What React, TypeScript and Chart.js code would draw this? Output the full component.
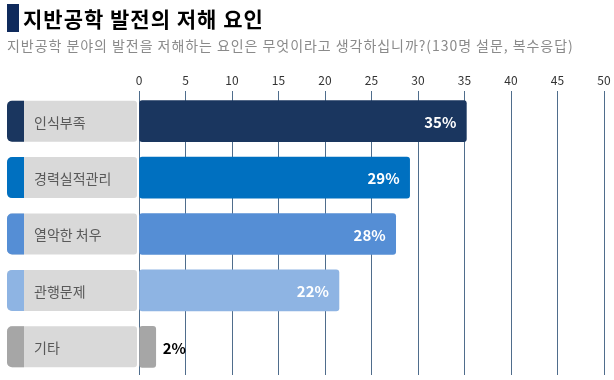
import React, { useEffect, useRef } from "react";
import { Chart, registerables } from "chart.js";

Chart.register(...registerables);

const titleText = "지반공학 발전의 저해 요인";
const subtitleText = "지반공학 분야의 발전을 저해하는 요인은 무엇이라고 생각하십니까?(130명 설문, 복수응답)";
const categories = ["인식부족", "경력실적관리", "열악한 처우", "관행문제", "기타"];
const values = [35.2, 29.1, 27.6, 21.5, 1.8];
const barColors = ["#1a365f", "#0070c0", "#558ed5", "#8eb4e3", "#a6a6a6"];
const xMin = 0;
const xMax = 50;
const xStep = 5;

const FONT = "'Noto Sans CJK KR', 'Noto Sans', sans-serif";

const labelBoxPlugin = {
  id: "labelBoxes",
  beforeDatasetsDraw(chart: any) {
    const { ctx, chartArea } = chart;
    const yScale = chart.scales.y;
    const meta = chart.getDatasetMeta(0);
    ctx.save();
    categories.forEach((cat, i) => {
      const cy = yScale.getPixelForValue(i);
      const bar = meta.data[i];
      const h = bar ? bar.height : 41;
      const top = cy - h / 2;
      const x0 = 7;
      const x1 = chartArea.left - 2;
      ctx.fillStyle = "#d9d9d9";
      ctx.beginPath();
      ctx.roundRect(x0, top, x1 - x0, h, [5, 3, 3, 5]);
      ctx.fill();
      ctx.fillStyle = barColors[i];
      ctx.beginPath();
      ctx.roundRect(x0, top, 17, h, [5, 0, 0, 5]);
      ctx.fill();
      ctx.fillStyle = "#595959";
      ctx.font = `14px ${FONT}`;
      ctx.textBaseline = "middle";
      ctx.textAlign = "left";
      ctx.fillText(cat, 34, cy + 1);
    });
    ctx.restore();
  },
};

const valueLabelPlugin = {
  id: "valueLabels",
  afterDatasetsDraw(chart: any) {
    const { ctx } = chart;
    const meta = chart.getDatasetMeta(0);
    ctx.save();
    ctx.font = `bold 15px ${FONT}`;
    ctx.textBaseline = "middle";
    meta.data.forEach((bar: any, i: number) => {
      const text = Math.round(values[i]) + "%";
      if (values[i] > 5) {
        ctx.fillStyle = "#ffffff";
        ctx.textAlign = "right";
        ctx.fillText(text, bar.x - 10, bar.y + 1);
      } else {
        ctx.fillStyle = "#000000";
        ctx.textAlign = "left";
        ctx.fillText(text, bar.x + 7, bar.y + 1);
      }
    });
    ctx.restore();
  },
};

export default function App() {
  const canvasRef = useRef<HTMLCanvasElement | null>(null);

  useEffect(() => {
    if (!canvasRef.current) return;
    const chart = new Chart(canvasRef.current, {
      type: "bar",
      data: {
        labels: categories,
        datasets: [
          {
            data: values,
            backgroundColor: barColors,
            borderRadius: 3,
            borderSkipped: false,
            barThickness: 41,
          },
        ],
      },
      options: {
        indexAxis: "y",
        animation: false,
        responsive: false,
        maintainAspectRatio: false,
        layout: { padding: { left: 139, right: 10, top: 63, bottom: 5 } },
        plugins: {
          legend: { display: false },
          tooltip: { enabled: false },
          title: { display: false },
        },
        scales: {
          x: {
            position: "top",
            min: xMin,
            max: xMax,
            afterFit: (s: any) => {
              s.height = 30;
            },
            ticks: {
              stepSize: xStep,
              color: "#333333",
              padding: 3,
              font: { family: FONT, size: 12 },
            },
            grid: {
              color: "#4f6d8c",
              lineWidth: 1,
              tickLength: 2,
              drawOnChartArea: true,
            },
            border: { display: false },
          },
          y: {
            display: false,
            grid: { display: false },
          },
        },
      },
      plugins: [labelBoxPlugin, valueLabelPlugin],
    });
    return () => chart.destroy();
  }, []);

  return (
    <div style={{ position: "fixed", left: 0, top: 0, width: 614, height: 380, background: "#ffffff", overflow: "hidden" }}>
      <canvas ref={canvasRef} width={614} height={380} style={{ position: "absolute", left: 0, top: 0, width: 614, height: 380 }} />
      <div style={{ position: "absolute", left: 7, top: 4, width: 12, height: 28, background: "#0f2a5c" }} />
      <div
        style={{
          position: "absolute",
          left: 23,
          top: 3,
          fontFamily: FONT,
          fontWeight: 700,
          fontSize: 21,
          lineHeight: "30px",
          letterSpacing: "1px",
          color: "#000000",
          whiteSpace: "nowrap",
        }}
      >
        {titleText}
      </div>
      <div
        style={{
          position: "absolute",
          left: 7,
          top: 35,
          fontFamily: FONT,
          fontSize: 14,
          lineHeight: "20px",
          letterSpacing: "0.95px",
          color: "#8a8a8a",
          whiteSpace: "nowrap",
        }}
      >
        {subtitleText}
      </div>
    </div>
  );
}
